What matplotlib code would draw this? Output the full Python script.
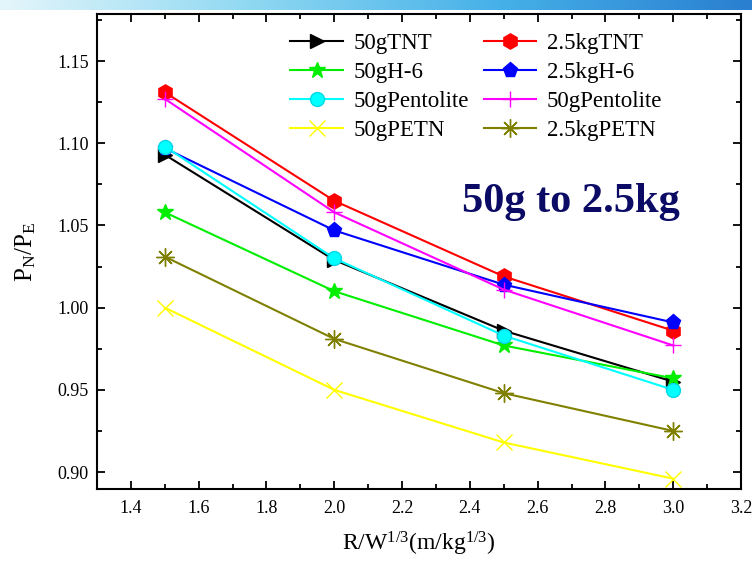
import numpy as np
import matplotlib
matplotlib.use("Agg")
import matplotlib.pyplot as plt
from matplotlib.ticker import MultipleLocator
from matplotlib.colors import LinearSegmentedColormap

plt.rcParams['font.family'] = ['Liberation Serif', 'DejaVu Serif']
plt.rcParams['mathtext.fontset'] = 'custom'
plt.rcParams['mathtext.rm'] = 'Liberation Serif'
plt.rcParams['mathtext.it'] = 'Liberation Serif'

x = [1.5, 2.0, 2.5, 3.0]
tnt_50 = [1.093, 1.029, 0.986, 0.955]
tnt_25 = [1.131, 1.065, 1.019, 0.986]
h6_50 = [1.058, 1.010, 0.977, 0.957]
h6_25 = [1.097, 1.047, 1.014, 0.991]
pent_50 = [1.098, 1.030, 0.983, 0.950]
pent_25 = [1.127, 1.058, 1.011, 0.977]
petn_50 = [1.000, 0.950, 0.918, 0.896]
petn_25 = [1.031, 0.981, 0.948, 0.925]

fig = plt.figure(figsize=(7.52, 5.61), dpi=100)

# top banner gradient
bax = fig.add_axes([0, 1 - 10/561, 1, 10/561])
grad = np.linspace(0, 1, 256).reshape(1, -1)
cm = LinearSegmentedColormap.from_list('b', ['#e4f6fb', '#8fd8f2', '#45b0e8', '#2a7fd0'])
bax.imshow(grad, aspect='auto', cmap=cm, extent=[0, 1, 0, 1])
bax.axis('off')

ax = fig.add_axes([97/752, 72/561, 644/752, 475/561])

lw = 1.5
h1, = ax.plot(x, tnt_50, color='black', marker='>', ms=10, lw=lw, label='50gTNT')
h5, = ax.plot(x, tnt_25, color='red', marker='h', ms=11, lw=lw, label='2.5kgTNT')
h2, = ax.plot(x, h6_50, color='#00ee00', marker='*', ms=12, lw=lw, label='50gH-6')
h6, = ax.plot(x, h6_25, color='blue', marker='p', ms=11, lw=lw, label='2.5kgH-6')
h3, = ax.plot(x, pent_50, color='cyan', marker='o', ms=10, lw=lw, mec='#00d8e8', label='50gPentolite')
h7, = ax.plot(x, pent_25, color='magenta', marker='+', ms=12, mew=1.0, lw=lw, label='50gPentolite')
h4, = ax.plot(x, petn_50, color='yellow', marker='x', ms=11, mew=1.0, lw=lw, label='50gPETN')
h8, = ax.plot(x, petn_25, color='#808000', marker=(8, 2, 0), ms=13, mew=1.0, lw=lw, label='2.5kgPETN')

ax.set_xlim(1.3, 3.2)
ax.set_ylim(0.8897, 1.1786)
ax.xaxis.set_major_locator(MultipleLocator(0.2))
ax.xaxis.set_minor_locator(MultipleLocator(0.1))
ax.yaxis.set_major_locator(MultipleLocator(0.05))
ax.yaxis.set_minor_locator(MultipleLocator(0.025))
ax.xaxis.set_major_formatter(plt.FormatStrFormatter('%.1f'))
ax.yaxis.set_major_formatter(plt.FormatStrFormatter('%.2f'))
ax.tick_params(which='both', direction='in', top=True, right=True, width=1.3, labelsize=13)
ax.tick_params(which='major', length=6)
ax.tick_params(which='minor', length=3.5)
ax.tick_params(axis='x', pad=8)
ax.tick_params(axis='y', pad=6)
for s in ax.spines.values():
    s.set_linewidth(1.5)

ax.set_xlabel(r'R/W$^{\mathregular{1/3}}$(m/kg$^{\mathregular{1/3}}$)', fontsize=17, labelpad=9)
ax.set_ylabel(r'P$_{\mathregular{N}}$/P$_{\mathregular{E}}$', fontsize=18, labelpad=14)

ax.text(0.905, 0.605, '50g to 2.5kg', transform=ax.transAxes, ha='right', va='center',
        fontsize=30.5, fontweight='bold', color='#0b0b66')

leg = ax.legend(handles=[h1, h2, h3, h4, h5, h6, h7, h8], ncol=2, loc='upper left',
                bbox_to_anchor=(0.268, 1.004), frameon=False, fontsize=16.5,
                handlelength=2.3, columnspacing=0.65, labelspacing=0.35, handletextpad=0.45)

fig.savefig('out.png', dpi=100)
